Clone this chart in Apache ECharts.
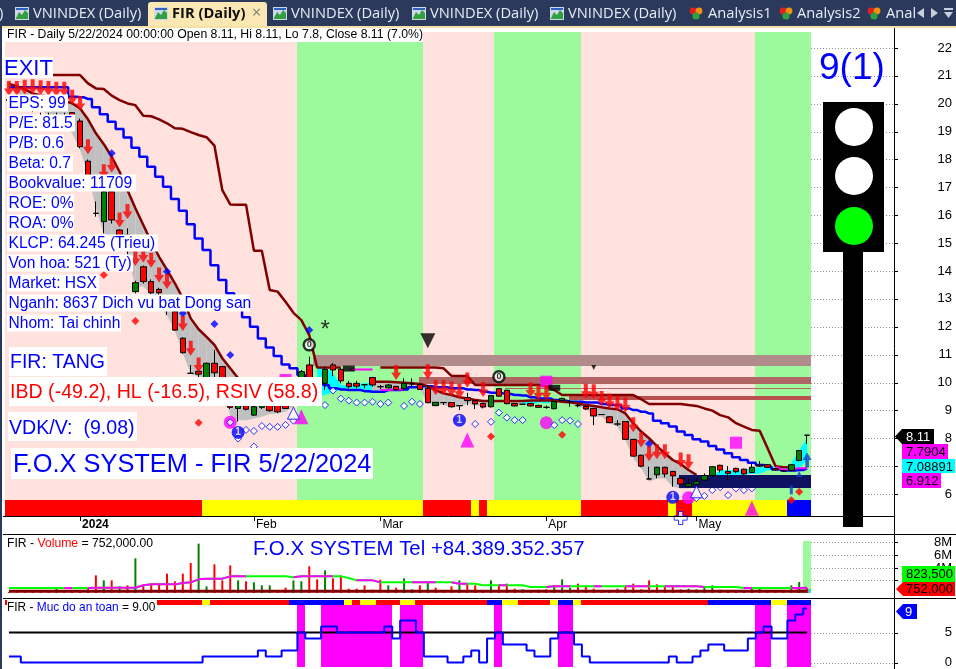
<!DOCTYPE html>
<html><head><meta charset="utf-8">
<style>html,body{margin:0;padding:0;background:#fff}#c{width:956px;height:669px}</style>
<script src="https://cdn.jsdelivr.net/npm/echarts@6/dist/echarts.min.js"></script>
</head><body><div id="c"></div>
<script>
// ---------- data (x = trading-day index) ----------
const tickIdx=[9,31,47,68,87];
const tickLabels=['2024','Feb','Mar','Apr','May'];
const priceTicks=[6,7,8,9,10,11,12,13,14,15,16,17,18,19,20,21,22];
const volTicks=[2,4,6,8];
const safeTicks=[0,5];
// open, close, low, high
const candles=[[20.15,20.12,20,20.2],[20,19.95,19.85,20.05],[19.9,19.85,19.75,19.95],[19.85,19.8,19.7,19.9],[19.5,19.4,19.3,19.68],[19.5,19.35,19.3,19.68],[19.45,19.3,19.2,19.68],[19.4,19.3,19.2,19.68],[19.68,19.1,19.05,19.7],[19.38,18.46,18.4,19.47],
[17.94,16.96,16.9,18],[16.07,16.07,15.95,16.49],[15.77,16.84,15.35,16.9],[16.84,15.83,15.7,16.9],[15.47,14.87,14.8,15.5],[15.29,14.75,14.6,15.53],[13.26,13.58,13.2,13.65],[14.15,13.62,13.55,14.2],[13.62,13.22,13.17,13.7],[13.34,13.22,13.1,13.4],
[12.96,12.6,12.42,13],[12.54,11.88,11.85,12.6],[11.59,11.07,11.03,11.62],[10.33,10.33,10.33,10.63],[10.4,10.3,10.2,10.45],[10.15,10.69,9.9,10.72],[10.69,10.35,10.15,11.17],[10.57,10.15,10,10.6],[9.31,9.11,9.05,9.4],[9.07,9.19,8.6,9.4],
[9.25,9.04,9,9.3],[8.83,9.13,8.8,9.2],[9.11,9.25,9.05,9.3],[9.25,8.99,8.95,9.3],[9.19,8.95,8.9,9.25],[9.22,9.07,9.05,9.3],[9.25,9.25,9.15,9.3],[10.15,10.39,10.1,10.45],[10.63,10.15,10.1,10.93],[10,10,9.9,10.1],
[9.97,10.47,9.73,10.57],[10.63,10.45,10.23,10.7],[10.47,10.06,9.97,10.52],[9.97,9.85,9.79,10.06],[9.97,9.87,9.79,10.06],[9.92,9.92,9.79,9.92],[10.18,9.91,9.85,10.2],[9.85,9.85,9.77,9.91],[9.81,9.91,9.79,9.95],[9.86,9.74,9.72,9.88],
[9.78,9.97,9.71,10.15],[9.95,9.95,9.87,10.15],[9.93,9.75,9.73,9.97],[9.79,9.28,9.25,9.91],[9.17,9.29,9.15,9.3],[9.28,9.28,9.19,9.28],[9.28,9.13,9.1,9.3],[9.17,9.17,9.01,9.17],[9.46,9.35,9.19,9.63],[9.35,9.23,9.05,9.37],
[9.25,9.12,9.07,9.27],[9.13,9.53,9.1,9.55],[9.78,9.51,9.49,9.8],[9.72,9.24,9.22,9.74],[9.25,9.16,9.14,9.27],[9.22,9.22,9.2,9.24],[9.25,9.16,9.14,9.27],[9.18,9.11,9.1,9.2],[9.11,9.11,9.06,9.17],[9.06,9.32,9.04,9.34],
[9.35,9.43,9.33,9.45],[9.31,9.31,9.13,9.37],[9.17,9.17,9.11,9.25],[9.14,9.05,9.01,9.16],[9.07,8.8,8.47,9.09],[8.85,8.85,8.84,8.86],[8.77,8.56,8.54,8.79],[8.51,8.51,8.44,8.65],[8.6,7.96,7.94,8.62],[7.96,7.36,7.34,7.98],
[7.39,7,6.96,7.41],[6.54,6.54,6.53,6.98],[6.69,6.96,6.56,6.98],[6.96,6.72,6.6,6.98],[6.81,6.65,6.26,6.83],[6.56,6.36,6.34,6.58],[6.28,6.37,6.24,6.56],[6.35,6.45,6.3,6.56],[6.5,6.66,6.48,6.74],[6.67,6.98,6.6,7],
[7.03,6.86,6.77,7.05],[6.81,6.74,6.5,7],[6.92,6.8,6.74,6.94],[6.89,6.72,6.68,6.91],[6.77,6.96,6.75,7.08],[7.04,7,6.98,7.18],[7.05,6.96,6.94,7.07],[6.91,6.86,6.84,6.93],[6.83,6.83,6.81,6.85],[6.84,7.05,6.82,7.07],[7.2,7.56,7.18,7.58],[8.11,8.11,7.8,8.11]];
const upperLine=[21.03,21.03,21.03,21.03,21.03,21.03,21.03,21.03,21.03,21.03,20.73,20.55,20.53,20.29,20.13,20.01,19.95,19.57,19.55,19.44,19.30,19.12,19.10,18.98,18.88,18.80,18.50,16.90,16.39,16.38,16.38,14.73,14.73,13.32,13.26,12.90,12.50,12.24,11.70,10.54,10.54,10.54,10.54,null,null,null,null,10.54,10.54,10.54,10.54,10.54,10.54,10.54,10.54,10.51,10.24,10.23,10.23,9.91,9.91,9.91,9.91,9.91,9.91,9.91,9.91,9.91,9.87,9.73,9.55,9.55,9.55,9.55,9.55,9.55,9.55,9.55,9.55,9.55,9.40,9.23,9.23,9.23,9.23,9.23,9.19,9.16,9.07,8.99,8.83,8.75,8.54,8.42,8.30,8.27,7.64,7.00,6.96,6.96];
const blueLine=[20.59,20.59,20.59,20.59,20.59,20.59,20.59,20.59,20.25,20.23,20.17,19.87,19.62,19.35,19.09,18.79,18.42,18.10,17.74,17.38,17.02,16.58,16.16,15.68,15.17,14.75,14.21,13.68,13.20,12.78,12.34,12.00,11.58,11.26,10.95,10.65,10.51,10.27,10.10,9.95,9.90,9.79,9.75,9.73,9.73,9.69,9.67,9.67,9.73,9.73,9.75,9.83,9.87,9.87,9.83,9.83,9.79,9.79,9.75,9.73,9.67,9.63,9.61,9.59,9.55,9.53,9.47,9.43,9.43,9.37,9.35,9.31,9.31,9.28,9.28,9.23,9.19,9.19,9.07,9.01,8.95,8.89,8.63,8.54,8.42,8.24,8.12,7.96,7.88,7.72,7.60,7.46,7.32,7.22,7.12,7.04,6.98,6.89,6.84,6.84,6.86,6.92];
const bandTop=[20.71,20.63,20.52,20.37,20.31,20.25,20.19,20.10,20.02,19.83,19.44,18.94,18.55,18.10,17.56,16.90,16.25,15.65,15.05,14.51,14.04,13.56,13.02,12.30,11.91,11.64,11.35,10.87,10.51,10.15,9.90,9.55,9.45,9.40,9.35,9.30,9.30,null,null,10.51,10.54,10.33,9.91,9.91,9.95,9.97,10.03,10.03,10.03,10.01,9.99,9.97,9.95,9.87,9.73,9.61,9.55,9.47,9.43,9.37,9.34,9.34,9.34,9.34,9.34,9.34,9.35,9.35,9.35,9.35,9.31,9.29,9.25,9.19,9.16,9.11,9.07,9.04,8.89,8.54,8.24,8.00,7.72,7.46,7.22,7.08,6.86,6.68,null,6.68,6.84,6.86,6.86,6.89,6.92,6.96,6.96,6.96,6.86,7.10,7.58,8.00];
const bandBot=[20.59,20.40,20.19,19.99,19.80,19.59,19.42,19.20,18.94,18.34,17.50,16.25,15.35,15.17,14.93,14.63,13.44,13.44,13.18,12.72,12.42,11.86,11.05,10.31,10.21,10.09,10.15,10.09,8.78,8.65,8.65,8.71,8.77,8.87,8.89,8.95,9.13,null,null,9.49,9.55,9.67,9.75,9.79,9.78,9.73,9.67,9.75,9.79,9.73,9.73,9.83,9.75,9.25,9.19,9.19,9.13,9.11,9.25,9.19,9.13,9.13,9.31,9.24,9.19,9.25,9.19,9.28,9.25,9.28,9.25,9.25,9.13,9.07,8.77,8.77,8.53,8.41,7.94,7.28,6.92,6.44,6.56,6.56,6.26,6.20,6.20,6.26,null,6.62,6.68,6.68,6.68,6.69,6.72,6.74,6.84,6.86,6.80,6.84,6.92,7.22];
const bandKinds=[[0,36,'#c0c0c0'],[39,46,'#00ffff'],[47,65,'#c0c0c0'],[66,69,'#00ffff'],[70,87,'#c0c0c0'],[89,101,'#00ffff']];
const stopSkip=[[37,45],[88,101]];
const magentaUpper=[[43,10.47],[44,10.47],[45,10.47],[46,10.47]];
const magentaLower=[[47,9.73],[48,9.73],[49,9.75],[50,9.75]];
const magentaEnd=[[97,6.96],[98,6.86],[99,6.89],[100,6.92],[101,6.92]];
// run edges in day units: [from, to, colour]
const trendBands=[[0,37,'#ffe1dd'],[37,53,'#9cfa9c'],[53,62,'#ffe1dd'],[62,73,'#9cfa9c'],[73,95,'#ffe1dd'],[95,102,'#9cfa9c']];
const R='#ff0000',Y='#ffff00',B='#0000ff';
const mainStrip=[[0,25,R],[25,53,Y],[53,59,R],[59,60,Y],[60,61,R],[61,73,Y],[73,84,R],[84,85,Y],[85,87,R],[87,99,Y],[99,102,B]];
const safeStrip=[[0,25,R],[25,26,Y],[26,36,R],[36,43,B],[43,44,Y],[44,45,R],[45,47,Y],[47,50,R],[50,52,Y],[52,61,R],[61,63,B],[63,65,Y],[65,69,R],[69,70,Y],[70,72,B],[72,73,Y],[73,89,R],[89,97,B],[97,99,Y],[99,102,B]];
// price zones: [from, to, low, high, colour]
const zones=[[39,102,10.59,10.99,'#b08c8a'],[52.4,102,9.95,10.18,'#b06464'],[63.3,102,9.77,9.81,'#b06464'],[71.4,102,9.39,9.52,'#b85050'],[85.4,102,6.23,6.68,'#0e1260']];
const downArrows=[[0,20.55],[1,20.55],[2,20.59],[3,20.61],[4,20.57],[5,20.55],[6,20.52],[7,20.52],[8,20.23],[9,20.01],[10,18.46],[12,17.56],[13,17.80],[14,15.83],[15,16.13],[16,14.45],[17,14.57],[18,14.39],[19,13.86],[20,13.62],[22,12.12],[23,11.23],[24,10.63],[49,10.36],[53,10.39],[54,9.81],[55,9.81],[56,9.77],[57,9.69],[58,10.09],[60,9.75],[66,9.73],[67,9.63],[68,9.63],[73,9.69],[74,9.67],[75,9.43],[76,9.33],[77,9.25],[78,9.19],[79,8.48],[80,7.94],[81,7.44],[82,7.52],[83,7.52],[85,7.22],[86,7.16]];
const blueDiamonds=[[13,18.22],[20,13.98],[22,12.48],[26,12.10],[28,10.99],[38,11.88],[81,7.80]];
const redDiamonds=[[12,13.86],[16,12.21],[24,8.56],[61,8.06],[70,8.13],[100,6.08],[99,5.78]];
const openDiamonds=[[28,8.57],[29,7.99],[30,8.30],[31,8.26],[31,7.70],[32,8.44],[33,8.41],[34,8.41],[35,8.48],[36,8.63],[40,9.19],[41,9.71],[42,9.42],[43,9.35],[44,9.28],[45,9.28],[46,9.31],[47,9.23],[48,9.28],[50,9.16],[51,9.31],[52,9.23],[59,8.51],[61,8.59],[62,8.92],[63,8.74],[64,8.65],[65,8.65],[69,8.47],[70,8.65],[71,8.63],[72,8.51],[87,5.85],[88,5.93],[89,6.14],[90,6.24],[91,5.96],[92,6.20],[93,6.14],[94,6.20]];
const magentaUp=[[37,8.77],[58,7.94],[94,5.49]];
const openUp=[[36,8.90],[87,6.08]];
const magentaCircles=[[28,8.57],[68,8.56],[86,5.87]];
const numberOne=[[29,8.21],[57,8.65],[84,5.88]];
const blackRings=[[38,11.35],[62,10.21]];
const blackDown=[[53,11.50]];
const blackDownSmall=[[74,10.54]];
const magentaSquares=[[92,7.84],[35,10.09],[68,10.03]];
const blackBars=[[43,10.50],[69,9.81]];
const blueUp=[[101,7.22]];
const blueUpSmall=[[100,6.72]];
const blueStem=[[99,6.15]];
const starMark=[[40,12.0]];
const flakeMark=[[85,5.14]];
// volume in millions
const volumes=[.15,.15,.15,.25,.15,.15,.68,.15,.15,.2,.7,2.78,1.99,1.99,1.05,1.21,5.46,1.31,1.47,1.31,3.04,1.84,3.04,4.72,7.77,1.05,4.51,1.99,4.36,1.99,1.84,1.68,1.21,1.21,.3,.84,1.99,1.84,4.2,2.15,3.57,2.31,2.78,.68,.68,1.21,.52,2.1,1.21,.84,2.31,.58,1.21,1.68,.84,.3,1.05,1.99,1.36,1.21,.3,1.99,1.36,1.47,.68,.58,.42,.52,.58,1.21,2.15,.84,1.47,1.05,.68,.3,.3,.68,1.05,1.47,.58,1.99,1.36,.94,1.21,.58,.68,.58,1.10,1.21,.52,.3,.3,.3,.84,.68,.3,.3,.3,1.21,1.73,.752];
const volGreen=[6,12,14,16,24,25,29,31,32,33,36,37,40,48,50,51,53,57,61,65,69,70,71,86,87,88,89,94,95,99,100];
const volAvg=[.79,.79,.79,.79,.79,.79,.79,.79,.79,.79,.79,.84,.84,.84,.84,.84,.84,1.21,1.36,1.36,1.36,1.36,1.57,1.68,2.15,2.26,2.26,2.26,2.62,2.62,2.62,2.62,2.62,2.62,2.62,2.62,2.47,2.62,2.62,2.62,2.62,2.62,2.62,2.36,1.99,1.99,1.99,1.68,1.68,1.68,1.68,1.68,1.68,1.68,1.68,1.68,1.68,1.47,1.47,1.47,1.21,1.21,1.21,1.21,1.21,1.21,.94,.94,.94,1.05,1.05,1.05,1.05,1.05,1.05,1.05,1.05,1.05,1.05,1.05,1.05,1.05,1.05,1.05,1.05,1.05,1.05,1.05,.94,.94,.94,.94,.94,.79,.79,.79,.79,.79,.79,.79,.79,.82];
const volAvgPinkRuns=[[7,8],[10,30],[36,41],[44,45],[46,47],[51,54],[56,58],[62,63],[68,71],[74,75],[78,81],[83,88],[93,94],[99,101]];
const volBaseLevel=.26;
const volHighlight=[[101,102,0,8.2,'#9cfa9c'],[100,101,0,.6,'#f2a860'],[101,102,0,.6,'#30d8e0']];
// safety score
const safety=[1,1,0,0,0,0,0,0,0,0,0,0,0,0,0,0,0,0,0,0,0,0,0,0,0,1,1,1,1,1,1,1,2,1,1,2,2,5,4,4,6,6,5,5,5,5,5,5,6,4,7,7,5,1,1,1,0,0,1,2,0,4,5,3,3,3,2,1,1,4,5,5,3,1,0,0,0,0,0,0,0,0,0,0,1,0,0,1,2,3,3,2,2,2,4,5,6,4,4,7,8,9];
const safetyLevel=5;

// ---------- helpers ----------
const FONT='"Liberation Sans"';
const cats=candles.map((_,i)=>String(i)).concat(Array.from({length:11},(_,i)=>String(102+i)));
const val=(a)=>({type:'value',show:false,min:0,max:113,gridIndex:a});
function rectSeries(xa,ya,rows,z){
  return {type:'custom',xAxisIndex:xa,yAxisIndex:ya,z,silent:true,
    data:rows.map(r=>r.slice(0,4)),
    encode:{x:[0,1],y:[2,3]},
    renderItem:(p,api)=>{
      const a=api.coord([api.value(0),api.value(2)]),b=api.coord([api.value(1),api.value(3)]);
      const x=Math.floor(a[0]),y=Math.round(b[1]);
      return {type:'rect',shape:{x,y,width:Math.floor(b[0])-x,height:Math.round(a[1])-y},style:{fill:rows[p.dataIndex][4]}};
    }};
}
function hTicks(xa,ya,ticks,z,from,to,stroke,dash){
  return {type:'custom',xAxisIndex:xa,yAxisIndex:ya,z,silent:true,
    data:ticks.map(t=>[from,to,t]),encode:{x:[0,1],y:2},
    renderItem:(p,api)=>{
      const a=api.coord([api.value(0),api.value(2)]),b=api.coord([api.value(1),api.value(2)]);
      const y=Math.round(a[1])+.5;
      return {type:'line',shape:{x1:a[0],y1:y,x2:b[0],y2:y},style:{stroke,lineWidth:1,lineDash:dash,fill:null}};
    }};
}
function dotted(xa,ya,ticks,z){return hTicks(xa,ya,ticks,z,102,112.5,'#8c8c8c',[1,2]);}
function marks(xa,ya,ticks,z){return hTicks(xa,ya,ticks,z,112.5,113,'#000',null);}
function markers(data,opt){
  return Object.assign({type:'scatter',xAxisIndex:0,yAxisIndex:0,data,silent:true},opt);
}
const kindOf=(i)=>{for(const k of bandKinds) if(i>=k[0]&&i<=k[1]) return k[2];return null;};
const arrowPath='path://M3,0 L7,0 L7,7 L10,7 L5,14 L0,7 L3,7 Z';
const upPath='path://M5,0 L10,7 L7,7 L7,14 L3,14 L3,7 L0,7 Z';
const flakePath='path://M4,0 L8,0 L8,4 L12,4 L12,8 L8,8 L8,12 L4,12 L4,8 L0,8 L0,4 L4,4 Z';
const tickFn=(i)=>tickIdx.includes(i);
const inRuns=(i,runs)=>runs.some(r=>i>=r[0]&&i<=r[1]);

// ---------- series ----------
const series=[
  rectSeries(3,1,trendBands.map(b=>[b[0],b[1],0,.988,b[2]]),1),
  dotted(3,0,priceTicks,1),
  marks(3,0,priceTicks,1),
  rectSeries(3,1,mainStrip.map(b=>[b[0],b[1],0,.033,b[2]]),3),
  rectSeries(3,0,zones.slice(0,4),3),
  {type:'custom',xAxisIndex:3,yAxisIndex:0,z:2,silent:true,
   data:bandTop.map((t,i)=>[i+.5,t,bandBot[i]]),encode:{x:0,y:[1,2]},
   renderItem:(p,api)=>{
     const i=p.dataIndex;
     if(i>=bandTop.length-1||bandTop[i]==null||bandTop[i+1]==null) return;
     const c=kindOf(i)&&kindOf(i+1)?kindOf(i+1):null; if(!c) return;
     return {type:'polygon',shape:{points:[
       api.coord([i+.5,bandTop[i]]),api.coord([i+1.5,bandTop[i+1]]),
       api.coord([i+1.5,bandBot[i+1]]),api.coord([i+.5,bandBot[i]])]},style:{fill:c}};
   }},
  {type:'line',xAxisIndex:0,yAxisIndex:0,data:upperLine,z:4,symbol:'none',connectNulls:false,lineStyle:{color:'#800000',width:2.5},silent:true},
  {type:'line',xAxisIndex:0,yAxisIndex:0,data:blueLine,z:4,symbol:'none',step:'middle',lineStyle:{color:'#0000ff',width:2.5},silent:true},
  {type:'line',xAxisIndex:0,yAxisIndex:0,data:bandTop.map((v,i)=>inRuns(i,stopSkip)?null:v),z:4,symbol:'none',lineStyle:{color:'#800000',width:2.5},silent:true},
  {type:'line',xAxisIndex:0,yAxisIndex:0,data:magentaUpper,z:4,symbol:'none',lineStyle:{color:'#ff00ff',width:2},silent:true},
  {type:'line',xAxisIndex:0,yAxisIndex:0,data:magentaLower,z:4,symbol:'none',lineStyle:{color:'#ff00ff',width:2},silent:true},
  {type:'line',xAxisIndex:0,yAxisIndex:0,data:magentaEnd,z:4,symbol:'none',lineStyle:{color:'#ff00ff',width:2},silent:true},
  markers(blueDiamonds,{symbol:'diamond',symbolSize:8,itemStyle:{color:'#0000ff'},z:5}),
  markers(redDiamonds,{symbol:'diamond',symbolSize:8,itemStyle:{color:'#ff0000'},z:5}),
  markers(magentaCircles,{symbol:'circle',symbolSize:13,itemStyle:{color:'#ff00ff'},z:5}),
  markers(openDiamonds,{symbol:'diamond',symbolSize:7,itemStyle:{color:'#ffffff',borderColor:'#0000ff',borderWidth:1},z:5}),
  rectSeries(3,0,zones.slice(4),6),
  {type:'candlestick',xAxisIndex:0,yAxisIndex:0,data:candles,z:7,barWidth:6,silent:true,
   itemStyle:{color:'#008000',color0:'#ff0000',borderColor:'#000',borderColor0:'#000',borderColorDoji:'#000',borderWidth:1}},
  markers(downArrows,{symbol:arrowPath,symbolSize:[10,15],itemStyle:{color:'#ff0000'},z:8}),
  markers(magentaUp,{symbol:'triangle',symbolSize:[14,15],itemStyle:{color:'#ff00ff'},z:8}),
  markers(openUp,{symbol:'triangle',symbolSize:[12,12],itemStyle:{color:'#ffffff',borderColor:'#0000ff',borderWidth:1},z:8}),
  markers(numberOne,{symbol:'circle',symbolSize:13,itemStyle:{color:'#0000ff'},z:8,
    label:{show:true,position:'inside',formatter:'1',color:'#fff',fontSize:10,fontWeight:'bold',fontFamily:FONT}}),
  markers(blackRings,{symbol:'circle',symbolSize:11,itemStyle:{color:'#ffffff',borderColor:'#000',borderWidth:2.5},z:8,
    label:{show:true,position:'inside',formatter:'0',color:'#000',fontSize:9,fontWeight:'bold',fontFamily:FONT}}),
  markers(blackDown,{symbol:'triangle',symbolRotate:180,symbolSize:[15,15],itemStyle:{color:'#000'},z:8}),
  markers(blackDownSmall,{symbol:'triangle',symbolRotate:180,symbolSize:[5,5],itemStyle:{color:'#000'},z:8}),
  markers(magentaSquares,{symbol:'rect',symbolSize:12,itemStyle:{color:'#ff00ff'},z:5}),
  markers(blackBars,{symbol:'rect',symbolSize:[12,6],itemStyle:{color:'#000'},z:6}),
  markers(blueUp,{symbol:upPath,symbolSize:[9,15],itemStyle:{color:'#1040d0'},z:8}),
  markers(blueUpSmall,{symbol:'triangle',symbolSize:[6,6],itemStyle:{color:'#1040d0'},z:8}),
  markers(blueStem,{symbol:'rect',symbolSize:[3,9],itemStyle:{color:'#1040d0'},z:8}),
  markers(flakeMark,{symbol:flakePath,symbolSize:13,clip:false,itemStyle:{color:'#ffffff',borderColor:'#0000ff',borderWidth:1},z:9}),
  markers(starMark,{symbol:'circle',symbolSize:1,itemStyle:{color:'rgba(0,0,0,0)'},z:8,
    label:{show:true,position:'inside',formatter:'*',color:'#000',fontSize:24,fontFamily:FONT,offset:[0,4]}}),
  // volume pane
  rectSeries(4,2,volHighlight,2),
  dotted(4,2,volTicks,1),
  marks(4,2,volTicks,1),
  {type:'bar',xAxisIndex:1,yAxisIndex:2,z:3,barWidth:2,silent:true,
   data:volumes.map((v,i)=>({value:v,itemStyle:{color:volGreen.includes(i)?'#008000':'#ff0000'}}))},
  {type:'line',xAxisIndex:1,yAxisIndex:2,data:volAvg,z:4,symbol:'none',lineStyle:{color:'#00ff00',width:2},silent:true},
  {type:'line',xAxisIndex:1,yAxisIndex:2,data:volAvg.map((v,i)=>inRuns(i,volAvgPinkRuns)?v:null),z:4,symbol:'none',lineStyle:{color:'#ff00ff',width:2},silent:true},
  {type:'line',xAxisIndex:1,yAxisIndex:2,data:volAvg.map(()=>volBaseLevel),z:5,symbol:'none',lineStyle:{color:'#800000',width:3},silent:true},
  // safety pane
  dotted(5,3,safeTicks,1),
  marks(5,3,safeTicks,1),
  rectSeries(5,4,safety.map((v,i)=>v>=5?[i,i+1,0,.914,'#ff00ff']:null).filter(Boolean),2),
  rectSeries(5,4,safeStrip.map(b=>[b[0],b[1],.914,.986,b[2]]),3),
  {type:'line',xAxisIndex:2,yAxisIndex:3,data:safety.map(()=>safetyLevel),z:4,symbol:'none',lineStyle:{color:'#000',width:2},silent:true},
  {type:'line',xAxisIndex:2,yAxisIndex:3,data:safety,z:5,symbol:'none',step:'middle',lineStyle:{color:'#0000ff',width:2},silent:true}
];

// ---------- annotations ----------
const g=[];
const rect=(x,y,w,h,fill,z)=>g.push({type:'rect',silent:true,z:z||100,shape:{x,y,width:w,height:h},style:{fill}});
const hline=(x1,y1,x2,y2,c,w)=>g.push({type:'line',silent:true,z:90,shape:{x1,y1,x2,y2},style:{stroke:c,lineWidth:w||1}});
const txt=(x,y,text,size,fill,extra)=>g.push({type:'text',silent:true,z:102,x,y,style:Object.assign({text,fill,fontSize:size,fontFamily:FONT,verticalAlign:'middle'},extra||{})});
const poly=(pts,fill,z)=>g.push({type:'polygon',silent:true,z:z||100,shape:{points:pts},style:{fill}});
const circ=(cx,cy,r,fill,z)=>g.push({type:'circle',silent:true,z:z||101,shape:{cx,cy,r},style:{fill}});

// tab strip
rect(0,0,956,26,'#2b3a5c',95);
rect(0,26,956,2,'#f6e2a6',95);
rect(0,0,2,669,'#2b3a5c',95);
g.push({type:'rect',silent:true,z:96,shape:{x:148,y:2,width:119,height:24,r:[3,3,0,0]},style:{fill:'#fbe7b4'}});
const tabFont={fontFamily:'"Open Sans"'};
const TAB=14.7;
const icon=(x)=>{rect(x,7,14,13,'#cfd8e8',97);poly([[x+1,18],[x+4,12],[x+7,15],[x+10,10],[x+13,13],[x+13,19],[x+1,19]],'#30a040',98);rect(x+1,8,12,2,'#3060c0',98);};
const heart=(x)=>{circ(x+3,11,3.4,'#e02020',98);circ(x+9,11,3.4,'#f09010',98);circ(x+6,16,3.6,'#30a040',98);};
txt(-1,14,')',TAB,'#e6ecf6',tabFont);
[[15,33],[273,291],[412,430],[550,568]].forEach(t=>{icon(t[0]);txt(t[1],14,'VNINDEX (Daily)',TAB,'#e6ecf6',tabFont);});
icon(154);
txt(172,14,'FIR (Daily)',TAB,'#101010',Object.assign({fontWeight:'bold'},tabFont));
txt(252,13,'×',16,'#7a7a7a',tabFont);
[[690,708,'Analysis1'],[780,797,'Analysis2']].forEach(t=>{heart(t[0]);txt(t[1],14,t[2],TAB,'#e6ecf6',tabFont);});
heart(868);
txt(886,14,'Anal',TAB,'#e6ecf6',tabFont);
rect(913,0,43,26,'#2b3a5c',99);
poly([[917,13],[924,8],[924,18]],'#c8cfdc',100);
poly([[931,8],[938,13],[931,18]],'#c8cfdc',100);
rect(944,8,9,2,'#c8cfdc',100);
poly([[944,12],[953,12],[948.5,18]],'#c8cfdc',100);

// frame lines
hline(3,516.5,894,516.5,'#000');
hline(894.5,28,894.5,669,'#000');
hline(3,534.5,956,534.5,'#000');
hline(3,598.5,956,598.5,'#000');

// chart title and info boxes
rect(5,28,418,14,'#fff');
txt(7,35,'FIR - Daily 5/22/2024 00:00:00 Open 8.11, Hi 8.11, Lo 7.8, Close 8.11 (7.0%)',12.25,'#000');
rect(4,57,49,21,'#fff');
txt(4,69,'EXIT',22,'#0000ff');
const info=[['EPS: 99',68],['P/E: 81.5',75],['P/B: 0.6',64],['Beta: 0.7',73],['Bookvalue: 11709',136],['ROE: 0%',74],['ROA: 0%',74],['KLCP: 64.245 (Trieu)',158],['Von hoa: 521 (Ty)',133],['Market: HSX',99],['Nganh: 8637 Dich vu bat Dong san',250],['Nhom: Tai chinh',121]];
info.forEach((t,i)=>{const y=103+i*20;rect(7,y-8.5,t[1]-7,17,'#fff');txt(8.5,y+1,t[0],15.6,'#0000ff');});
rect(9,347,98,29,'#fff'); txt(10,363,'FIR: TANG',19.5,'#0000ff');
rect(9,377,313,29,'#fff'); txt(10,393,'IBD (-49.2), HL (-16.5), RSIV (58.8)',19.6,'#ff0000');
rect(8,412,129,29,'#fff'); txt(9,429,'VDK/V:  (9.08)',19.6,'#0000ff');
rect(11,448,362,31,'#fff'); txt(13,465,'F.O.X SYSTEM - FIR 5/22/2024',25.4,'#0000ff');

// traffic light
txt(819,69,'9(1)',37,'#0000ff');
rect(843,252,20,275,'#000',100);
rect(823,102,61,150,'#000',100);
circ(854,127,19,'#ffffff'); circ(854,176,19,'#ffffff'); circ(854,226,19,'#00ff00');

// volume-axis captions, placed by hand because the axis drops labels this close together
volTicks.forEach(v=>{txt(952,593-6.35*v+.5,v+'M',13,'#000',{align:'right'});g[g.length-1].z=99;});

// pane captions
txt(7,544,'{a|FIR - }{r|Volume}{a| = 752,000.00}',12,'#000',{rich:{a:{fill:'#000',fontSize:12.2,fontFamily:FONT},r:{fill:'#ff0000',fontSize:12.2,fontFamily:FONT}}});
txt(253,549,'F.O.X SYSTEM Tel +84.389.352.357',20.4,'#0000ff');
rect(7,600,150,16,'#fff');
rect(5,600,2,4,'#ff0000');
txt(7,608,'{a|FIR - }{b|Muc do an toan}{a| = 9.00}',12,'#000',{rich:{a:{fill:'#000',fontSize:11.9,fontFamily:FONT},b:{fill:'#0000ff',fontSize:11.9,fontFamily:FONT}}});

// last-value tags
poly([[895,436.5],[902,429],[934,429],[934,444],[902,444]],'#000');
txt(906,437,'8.11',13,'#fff');
rect(902,444,46,15,'#ff00ff'); txt(906,452,'7.7904',13,'#000');
rect(902,459,53,14,'#00ffff'); txt(906,467,'7.08891',13,'#000');
rect(902,473,39,15,'#ff00ff'); txt(906,481,'6.912',13,'#000');
rect(902,566,53,16,'#00ff00'); txt(906,574.5,'823,500',13,'#000');
poly([[896,589],[903,582],[955,582],[955,596],[903,596]],'#ff0000');
txt(906,589.5,'752,000',13,'#000');
poly([[896,611.5],[903,604],[917,604],[917,619],[903,619]],'#0000ff');
txt(905,612,'9',13,'#fff');

// ---------- axes ----------
const yLabel=(customValues,fmt)=>({margin:58,align:'right',fontSize:13,color:'#000',fontFamily:FONT,customValues,formatter:fmt,showMinLabel:true,showMaxLabel:true,hideOverlap:false});
const yCommon=(customValues,min,max,grid,fmt)=>({type:'value',gridIndex:grid,position:'right',offset:-4,min,max,scale:true,
  axisLine:{show:false},splitLine:{show:false},
  axisTick:{show:false},
  axisLabel:yLabel(customValues,fmt)});
const frac=(grid)=>({type:'value',gridIndex:grid,show:false,min:0,max:1});
const option={
  animation:false,
  backgroundColor:'#fff',
  grid:[{left:5,top:26,width:893,height:490},{left:5,top:535,width:893,height:63},{left:5,top:599,width:893,height:70}],
  xAxis:[
    {type:'category',gridIndex:0,data:cats,boundaryGap:true,
     axisLine:{show:false},
     axisTick:{show:true,length:5,interval:(i)=>tickFn(i),alignWithLabel:true,lineStyle:{color:'#000'}},
     axisLabel:{show:true,interval:(i)=>tickFn(i),align:'left',margin:3,hideOverlap:false,
       formatter:(v)=>{const t=tickLabels[tickIdx.indexOf(+v)];return t==='2024'?'{b|2024}':'{n|'+t+'}';},
       rich:{b:{fontWeight:'bold',fontSize:12,fontFamily:FONT,color:'#000',padding:[0,0,0,2]},n:{fontSize:12,fontFamily:FONT,color:'#000',padding:[0,0,0,2]}}}},
    {type:'category',gridIndex:1,data:cats,show:false},
    {type:'category',gridIndex:2,data:cats,show:false},
    val(0),val(1),val(2)
  ],
  yAxis:[
    yCommon(priceTicks,5.211,22.789,0),
    frac(0),
    Object.assign(yCommon(volTicks,-.787,9.134,1),{axisLabel:{show:false}}),
    yCommon(safeTicks,-.816,10.6,2),
    frac(2)
  ],
  series:series,
  graphic:{elements:g}
};
const chart=echarts.init(document.getElementById('c'));
chart.setOption(option);
</script></body></html>
